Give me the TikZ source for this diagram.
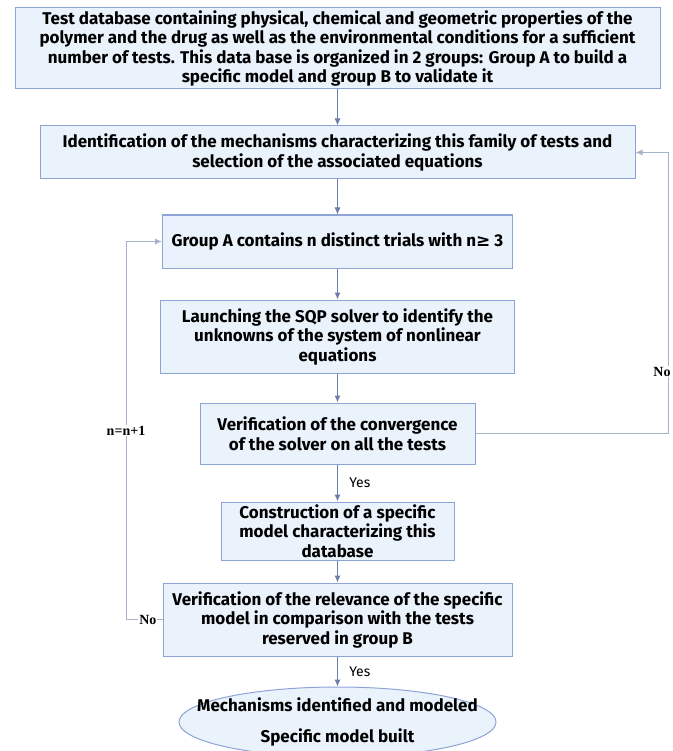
\documentclass[tikz,border=0pt]{standalone}
\usepackage{fontspec}
\setmainfont{Fira Sans}
\newfontfamily\labelfont{Liberation Serif}
\newfontfamily\symbolfont{DejaVu Sans}
\usepackage{tikz}
\usepackage{xcolor}
\usetikzlibrary{arrows.meta,shapes.geometric}

\definecolor{boxfill}{HTML}{EAF2FC}
\definecolor{boxline}{HTML}{8EA4D6}
\definecolor{arrowc}{HTML}{6E7CAB}
\definecolor{loopc}{HTML}{A4B2CC}

\begin{document}
\begin{tikzpicture}[x=1pt,y=-1pt,
    box/.style={draw=boxline, fill=boxfill, line width=1pt, align=center, inner sep=0pt,
        font=\fontsize{17}{19.5}\selectfont\bfseries},
    arr/.style={-{Latex[length=7pt,width=6pt]}, draw=arrowc, line width=1pt},
    back/.style={-{Latex[length=7pt,width=6pt]}, draw=loopc, line width=1pt},
    yeslab/.style={right, xshift=8pt, font=\fontsize{14}{15}\selectfont},
    nolab/.style={fill=white, inner sep=1pt, font=\fontsize{14}{16}\selectfont\labelfont\bfseries}]
                \useasboundingbox (0,0) rectangle (672,751);
                % boxes of the flowchart
                \node[box, minimum width=645, minimum height=81] (base) at (337.5,48.5)
                    {Test database containing physical, chemical and geometric properties of the\\
                     polymer and the drug as well as the environmental conditions for a sufficient\\
                     number of tests. This data base is organized in 2 groups: Group A to build a\\
                     specific model and group B to validate it};
                \node[box, minimum width=595, minimum height=53] (ident) at (337.5,152.5)
                    {Identification of the mechanisms characterizing this family of tests and\\
                     selection of the associated equations};
                \node[box, minimum width=350, minimum height=53] (groupA) at (337.5,241.5)
                    {Group A contains n distinct trials with n{\symbolfont\bfseries≥} 3};
                \node[box, minimum width=354, minimum height=73] (solver) at (337.5,336.5)
                    {Launching the SQP solver to identify the\\
                     unknowns of the system of nonlinear\\ equations};
                \node[box, minimum width=275, minimum height=61] (conv) at (337.5,433.5)
                    {Verification of the convergence\\ of the solver on all the tests};
                \node[box, minimum width=233, minimum height=58] (model) at (337.5,531)
                    {Construction of a specific\\ model characterizing this\\ database};
                \node[box, minimum width=349, minimum height=73] (relev) at (337.5,619.5)
                    {Verification of the relevance of the specific\\
                     model in comparison with the tests\\ reserved in group B};
                \node[box, ellipse, inner sep=-40pt, minimum width=317, minimum height=70] (done) at (337.5,722)
                    {Mechanisms identified and modeled\\[12pt] Specific model built};
                % main flow
                \draw[arr] (base) -- (ident);
                \draw[arr] (ident) -- (groupA);
                \draw[arr] (groupA) -- (solver);
                \draw[arr] (solver) -- (conv);
                \draw[arr] (conv) -- node[yeslab]{Yes} (model);
                \draw[arr] (model) -- (relev);
                \draw[arr] (relev) -- node[yeslab]{Yes} (done);
                % loops back
                \coordinate (right) at (668,433.5);
                \coordinate (left) at (126,619.5);
                \draw[back] (conv.east) -- (right) -- node[nolab, pos=0.22, anchor=east, xshift=4pt]{No} (right |- ident.east) -- (ident.east);
                \draw[back] (relev.west) -- node[nolab, pos=0.4]{No} (left) -- node[nolab]{n=n+1} (left |- groupA.west) -- (groupA.west);
            \end{tikzpicture}
\end{document}
